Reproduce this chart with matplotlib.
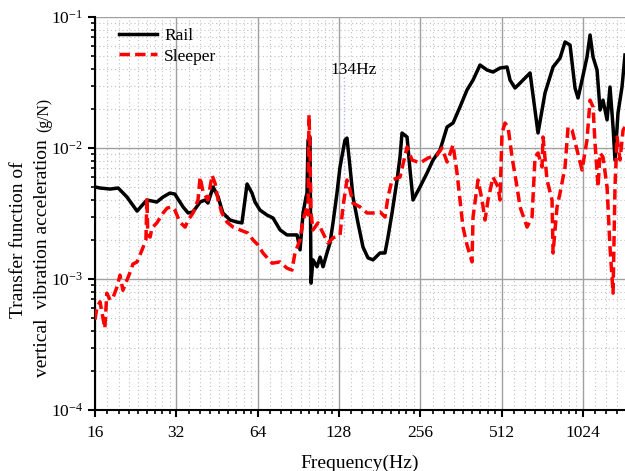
import numpy as np
import matplotlib
matplotlib.use("Agg")
import matplotlib.pyplot as plt
from matplotlib.ticker import FixedLocator, NullFormatter, FuncFormatter

plt.rcParams['font.family'] = ['Liberation Serif', 'DejaVu Serif']
plt.rcParams['mathtext.fontset'] = 'custom'
plt.rcParams['mathtext.rm'] = 'Liberation Serif'

# rail transfer function (Hz, g/N)
rail_f = [16, 16.7, 18.2, 19.5, 21.0, 22.9, 24.9, 27.1, 28.6, 30.3, 31.6, 33.9, 35.4,
          36.9, 39.2, 40.9, 41.9, 43.8, 45.7, 47.6, 50.6, 53.7, 56.0, 58.5, 61.0, 62.6,
          65.3, 69.3, 73.0, 77.5, 82.2, 86.5, 89.6, 91.9, 94.3, 96.7, 97.5, 98.4, 100.0,
          100.9, 102.6, 106.2, 109.0, 111.8, 115.6, 118.6, 121.7, 125.9, 129.2, 134.8,
          137.1, 140.7, 144.3, 150.6, 157.2, 164.0, 171.2, 181.7, 189.6, 194.5, 201.3,
          210.1, 215.5, 219.2, 228.8, 234.7, 240.8, 255.5, 271.3, 285.6, 303.1, 321.8,
          338.7, 359.4, 381.4, 401.6, 426.2, 452.5, 476.2, 505.4, 536.6, 550.6, 574.4,
          599.5, 653, 698.9, 741.8, 794.4, 843.2, 880, 918.2, 958, 983, 1017, 1061, 1089,
          1117, 1156, 1186, 1216, 1259, 1291, 1325, 1347, 1382, 1430, 1467]
rail_v = [0.00504, 0.00495, 0.00486, 0.00495, 0.00423, 0.0033, 0.00401, 0.00387, 0.00423,
          0.00453, 0.00445, 0.00355, 0.00319, 0.00325, 0.00387, 0.00401, 0.0038, 0.00504,
          0.00423, 0.00319, 0.00282, 0.00272, 0.00268, 0.00531, 0.00453, 0.00387, 0.00336,
          0.00308, 0.00292, 0.00237, 0.00217, 0.00217, 0.00217, 0.00167, 0.00319, 0.00423,
          0.00453, 0.0115, 0.0121, 0.00093, 0.0014, 0.00124, 0.00147, 0.00124, 0.00158,
          0.00188, 0.00268, 0.00453, 0.00716, 0.0115, 0.0119, 0.00716, 0.00423, 0.00268,
          0.00175, 0.00145, 0.0014, 0.00158, 0.00158, 0.00209, 0.00319, 0.0057, 0.00854,
          0.01302, 0.01213, 0.00679, 0.00401, 0.00504, 0.00644, 0.0081, 0.00965, 0.01446,
          0.01552, 0.0206, 0.0277, 0.033, 0.043, 0.0394, 0.038, 0.0408, 0.0415, 0.033,
          0.0287, 0.0313, 0.0374, 0.01302, 0.0263, 0.0415, 0.0486, 0.0645, 0.0611, 0.0287,
          0.0241, 0.033, 0.0495, 0.0729, 0.0495, 0.0394, 0.0195, 0.0232, 0.0164, 0.0292,
          0.01446, 0.0081, 0.0185, 0.0292, 0.0513]

# sleeper transfer function (Hz, g/N)
sleeper_f = [16, 16.27, 16.7, 17.4, 17.7, 18.2, 18.7, 19.3, 19.8, 20.3, 21.0, 21.6, 22.1,
             22.9, 23.9, 24.7, 24.9, 25.1, 25.6, 26.0, 27.1, 28.6, 29.6, 30.8, 31.6, 33.0,
             34.5, 35.4, 36.9, 38.5, 39.2, 40.2, 41.9, 43.4, 44.5, 45.7, 47.2, 49.3, 51.9,
             55.1, 59.0, 61.5, 64.2, 67.0, 72.4, 77.5, 82.2, 85.8, 88.0, 91.9, 94.3, 97.5,
             98.4, 99.2, 100.0, 100.9, 102.6, 107.1, 111.8, 116.6, 121.7, 129.2, 132.5,
             137.1, 140.7, 144.3, 153.2, 162.7, 171.2, 181.7, 189.6, 194.5, 201.3, 215.5,
             228.8, 238.7, 255.5, 273.6, 295.5, 308.3, 321.8, 338.7, 350.4, 359.4, 368.6,
             381.4, 398.1, 401.6, 419.0, 433.6, 444.8, 456.3, 476.2, 496.9, 505.4, 514.1,
             527.5, 541.3, 560, 584.3, 599.5, 636.5, 664.2, 681.3, 698.9, 723, 729.3, 754.6,
             787.5, 794.4, 821.9, 843.2, 880, 902.7, 934, 974.7, 1017, 1061, 1089, 1117,
             1136, 1166, 1186, 1216, 1259, 1291, 1325, 1347, 1371, 1406, 1443, 1467]
sleeper_v = [0.00049, 0.00061, 0.00067, 0.00042, 0.00078, 0.00069, 0.00073, 0.00087, 0.00107,
             0.00082, 0.00098, 0.00113, 0.0013, 0.00135, 0.00167, 0.00199, 0.00415, 0.00217,
             0.00209, 0.00245, 0.00268, 0.00319, 0.00348, 0.00355, 0.00336, 0.00272, 0.00249,
             0.00282, 0.00319, 0.00401, 0.006, 0.00461, 0.00401, 0.0062, 0.0054, 0.00401,
             0.00319, 0.00272, 0.00249, 0.00237, 0.00224, 0.00199, 0.00182, 0.00158, 0.00132,
             0.00135, 0.00121, 0.00117, 0.00158, 0.00199, 0.00282, 0.00355, 0.00308, 0.0179,
             0.00965, 0.00319, 0.00237, 0.00268, 0.00224, 0.00188, 0.00206, 0.00217, 0.00355,
             0.0057, 0.00478, 0.0038, 0.00355, 0.00319, 0.00319, 0.00325, 0.00297, 0.00423,
             0.0057, 0.006, 0.01018, 0.0081, 0.00768, 0.00839, 0.00884, 0.01, 0.00782, 0.01054,
             0.00644, 0.00401, 0.00249, 0.00182, 0.00135, 0.00297, 0.0057, 0.00401, 0.00282,
             0.00401, 0.006, 0.00504, 0.00401, 0.01302, 0.01552, 0.01446, 0.00854, 0.00504,
             0.00355, 0.00249, 0.00297, 0.00854, 0.00916, 0.00716, 0.01213, 0.0057, 0.00401,
             0.00158, 0.00355, 0.00453, 0.00716, 0.01446, 0.01372, 0.00965, 0.00679, 0.01151,
             0.0232, 0.0206, 0.01092, 0.00504, 0.00916, 0.00854, 0.00504, 0.00175, 0.00078,
             0.00504, 0.01213, 0.0081, 0.01372, 0.01446]

x_major = [16, 32, 64, 128, 256, 512, 1024]
y_major = [1e-4, 1e-3, 1e-2, 1e-1]

fig = plt.figure(figsize=(6.25, 4.71), dpi=100)
ax = fig.add_axes([0.152, 0.1295, 0.848, 0.8344])

ax.plot(rail_f, rail_v, color='black', lw=2.5, label='Rail', zorder=3)
ax.plot(sleeper_f, sleeper_v, color='red', lw=2.5, ls=(0, (3, 1.5)), label='Sleeper', zorder=4)
ax.plot([134, 134], [0.035, 0.0021], color='#b0b4ff', lw=1, ls=':', zorder=2)

ax.set_xscale('log', base=2)
ax.set_yscale('log')
ax.set_xlim(16, 1467)
ax.set_ylim(1e-4, 1e-1)

x_minor = [m * (1 + k / 9) for m in x_major for k in range(1, 9)]
ax.xaxis.set_major_locator(FixedLocator(x_major))
ax.xaxis.set_minor_locator(FixedLocator(x_minor))
ax.xaxis.set_major_formatter(FuncFormatter(lambda v, p: '%d' % v))
ax.xaxis.set_minor_formatter(NullFormatter())
ax.yaxis.set_major_locator(FixedLocator(y_major))
ax.yaxis.set_major_formatter(FuncFormatter(
    lambda v, p: r'$\mathregular{10^{%d}}$' % int(round(np.log10(v)))))

ax.grid(which='major', color='#a0a0a0', lw=1.0, ls='-')
ax.grid(which='minor', color='#c0c0c0', lw=0.8, ls=(0, (1, 2.5)))
ax.set_axisbelow(True)

ax.spines['top'].set_visible(False)
ax.spines['right'].set_visible(False)
ax.spines['left'].set_linewidth(1.5)
ax.spines['bottom'].set_linewidth(1.5)
ax.tick_params(which='major', direction='out', length=5, width=1.5, labelsize=12.5)
ax.tick_params(which='minor', direction='out', length=3, width=1.2)
ax.tick_params(axis='x', pad=6)

ax.text(118.6, 0.0394, '134Hz', fontsize=12.5, ha='left', va='center')

ax.set_xlabel('Frequency(Hz)', fontsize=14, labelpad=10)
# y label in two lines, drawn as separate texts to match the original sizes
fig.text(19 / 625, 1 - 240 / 471, 'Transfer function of', rotation=90,
         fontsize=14, ha='center', va='center')
fig.text(43 / 625, 1 - 258 / 471, 'vertical  vibration acceleration', rotation=90,
         fontsize=14, ha='center', va='center')
fig.text(44 / 625, 1 - 115 / 471, '(g/N)', rotation=90,
         fontsize=11.3, ha='center', va='center')

ax.legend(loc='upper left', bbox_to_anchor=(0.016, 1.012), frameon=False,
          fontsize=12.5, handlelength=2.2, handletextpad=0.4, labelspacing=0.25)

fig.savefig('out.png', dpi=100)
